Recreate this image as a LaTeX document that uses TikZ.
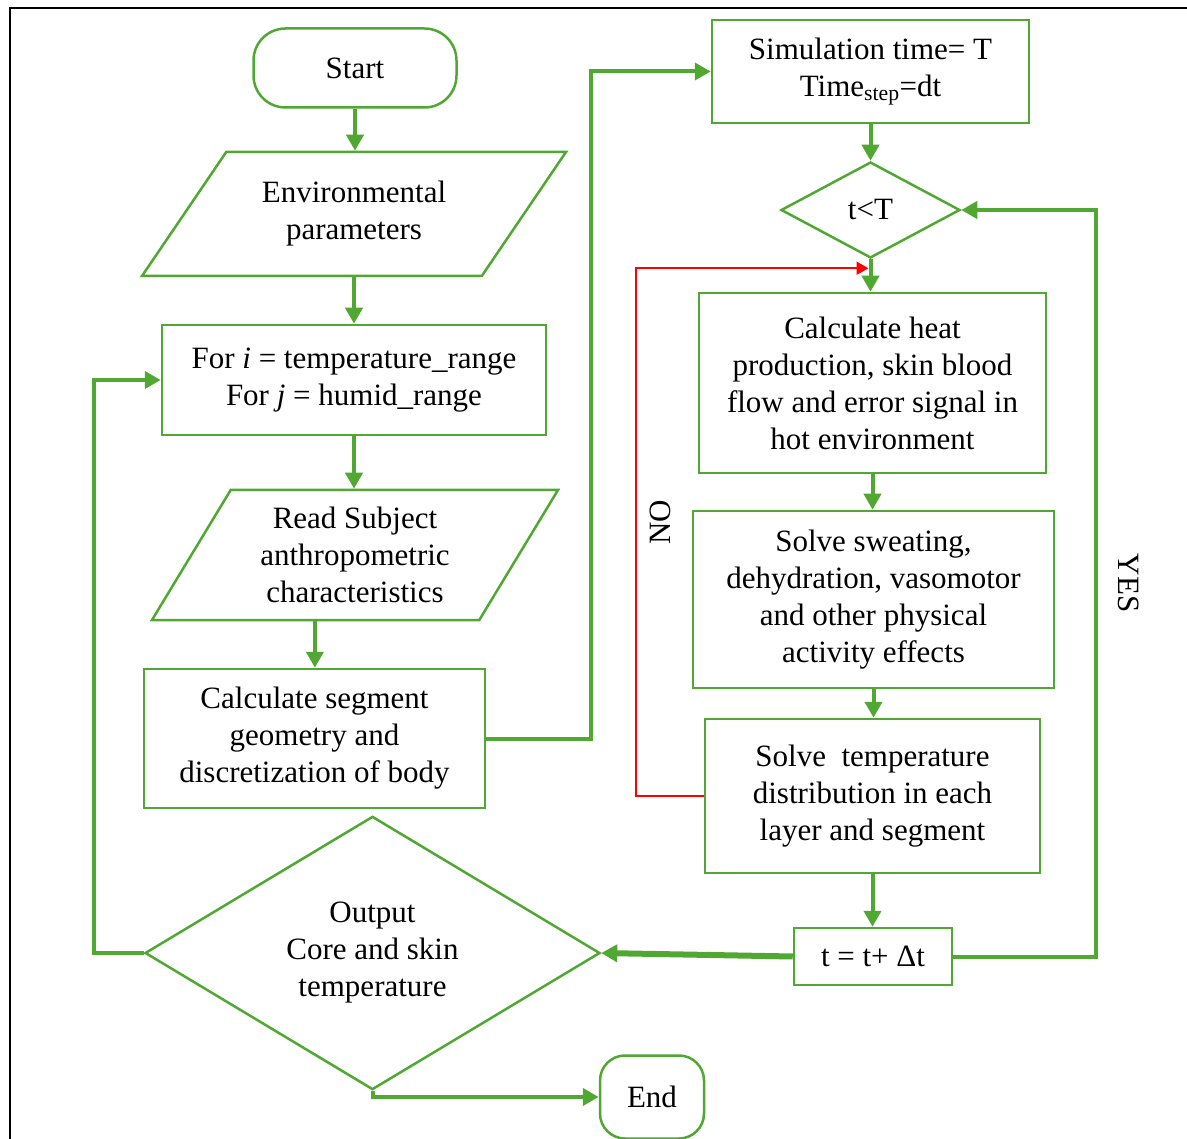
\documentclass[tikz,border=0pt]{standalone}
\usepackage{fontspec}
\setmainfont{Liberation Serif}
\definecolor{flowgreen}{RGB}{80,168,50}
\usetikzlibrary{shapes.geometric, arrows.meta, positioning}

\begin{document}
\begin{tikzpicture}[x=1pt, y=-1pt, font=\fontsize{31}{37}\selectfont,
  box/.style={draw=flowgreen, line width=2.5pt, align=center, inner sep=0pt},
  term/.style={box, rounded corners=#1},
  io/.style={box, trapezium, trapezium stretches body,
    trapezium left angle=#1, trapezium right angle=180-#1},
  decide/.style={box, diamond},
  flow/.style={draw=flowgreen, line width=4pt, -{Triangle[length=16pt,width=17pt]}},
  noflow/.style={draw=red, line width=2pt, -{Triangle[length=12pt,width=13pt]}}]

  \useasboundingbox (0,0) rectangle (1187,1139);
  \draw[line width=2pt] (10,1139) -- (10,8) -- (1187,8);

  % Left column
  \node[term=32pt, minimum width=203pt, minimum height=79pt] (start) at (355,68) {Start};
  \node[io=37.7, minimum width=424pt, minimum height=124pt] (env) at (354,214) {Environmental\\parameters};
  \node[box, minimum width=384pt, minimum height=110pt] (forbox) at (354,380)
    {For \textit{i} = temperature\_range\\For \textit{j} = humid\_range};
  \node[io=50.6, minimum width=406pt, minimum height=130pt] (read) at (355,555)
    {Read Subject\\anthropometric\\characteristics};
  \node[box, minimum width=341pt, minimum height=139pt] (segbox) at (314.5,738.5)
    {Calculate segment\\geometry and\\discretization of body};
  \node[decide, minimum width=455pt, minimum height=264pt] (output) at (372.5,953)
    {Output\\Core and skin\\temperature};
  \node[term=25pt, minimum width=104pt, minimum height=83pt] (endnode) at (652,1097) {End};

  % Right column - time loop
  \node[box, minimum width=317pt, minimum height=103pt] (simbox) at (870.5,71.5)
    {Simulation time= T\\Time\textsubscript{step}=dt};
  \node[decide, minimum width=179pt, minimum height=96pt] (check) at (870.5,210) {t<T};
  \node[box, minimum width=347pt, minimum height=180pt] (heatbox) at (872.5,383)
    {Calculate heat\\production, skin blood\\flow and error signal in\\hot environment};
  \node[box, minimum width=361pt, minimum height=177pt] (sweatbox) at (873.5,599.5)
    {Solve sweating,\\dehydration, vasomotor\\and other physical\\activity effects};
  \node[box, minimum width=335pt, minimum height=154pt] (tempbox) at (872.5,796)
    {Solve~ temperature\\distribution in each\\layer and segment};
  \node[box, minimum width=158pt, minimum height=57pt] (tstep) at (873,956.5) {t = t+ Δt};

  \node[rotate=90] (nolabel) at (660,522) {NO};
  \node[rotate=-90] (yeslabel) at (1129,583) {YES};

  % Connectors
  \draw[flow] (start.south) -- (start.south |- env.north);
  \draw[flow] (env.south -| forbox.north) -- (forbox.north);
  \draw[flow] (forbox.south) -- (forbox.south |- read.north);
  \draw[flow] (read.bottom side) -- (read.bottom side |- segbox.north);
  \draw[flow] (segbox.east) -- ++(105,0) |- (simbox.west);
  \draw[flow] (simbox.south) -- (check.north);
  \draw[flow] (check.south) -- (check.south |- heatbox.north);
  \draw[flow] (heatbox.south) -- (heatbox.south |- sweatbox.north);
  \draw[flow] (sweatbox.south) -- (sweatbox.south |- tempbox.north);
  \draw[flow] (tempbox.south) -- (tempbox.south |- tstep.north);
  \draw[flow, line width=6pt] (tstep.west) -- (output.east);
  \draw[flow] (tstep.east) -- ++(143,0) |- (check.east);
  \draw[flow] (output.west) -- ++(-50,0) |- (forbox.west);
  \draw[flow] (output.south) |- (endnode.west);
  \draw[noflow] (tempbox.west) -- ++(-68,0) |- ([xshift=-2pt,yshift=-9pt]check.south);

\end{tikzpicture}
\end{document}
